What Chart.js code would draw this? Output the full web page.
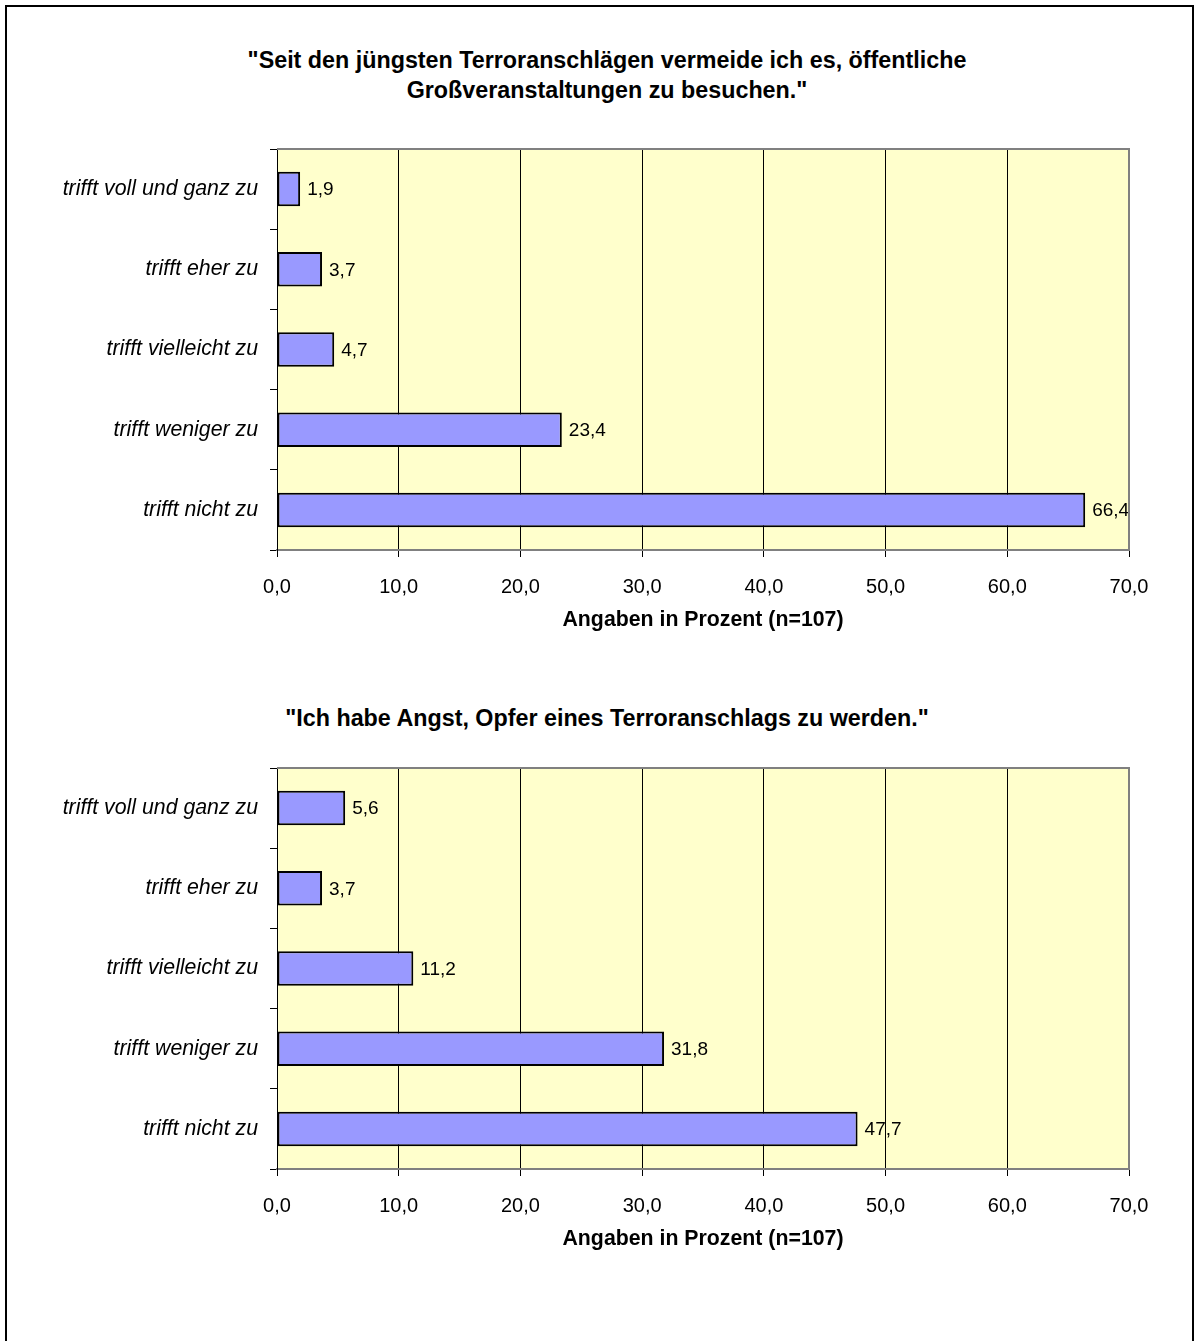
<!DOCTYPE html>
<html>
<head>
<meta charset="utf-8">
<script src="https://cdn.jsdelivr.net/npm/chart.js@4.4.1/dist/chart.umd.min.js"></script>
<style>
  body { margin: 0; background: #fff; width: 1195px; height: 1341px; overflow: hidden; position: relative; font-family: "Liberation Sans", Arial, sans-serif; }
  .frame { position: absolute; left: 5px; top: 5px; width: 1185px; height: 1400px; border: 2px solid #000; }
  .title { position: absolute; left: 0; width: 1214px; text-align: center; font-weight: bold; font-size: 23.3px; line-height: 30px; color: #000; }
  canvas { position: absolute; left: 0; }
</style>
</head>
<body>
<div class="frame"></div>
<div class="title" style="top:45px">"Seit den jüngsten Terroranschlägen vermeide ich es, öffentliche<br>Großveranstaltungen zu besuchen."</div>
<div class="title" style="top:703px">"Ich habe Angst, Opfer eines Terroranschlags zu werden."</div>
<canvas id="chartGross" width="1195" height="660" style="top:0"></canvas>
<canvas id="chartAngst" width="1195" height="660" style="top:619px"></canvas>
<script>
  const categories = [
    "trifft voll und ganz zu",
    "trifft eher zu",
    "trifft vielleicht zu",
    "trifft weniger zu",
    "trifft nicht zu",
  ];
  const grossValues = [1.9, 3.7, 4.7, 23.4, 66.4];
  const angstValues = [5.6, 3.7, 11.2, 31.8, 47.7];
  const axisTitle = "Angaben in Prozent (n=107)";
  const xMin = 0;
  const xMax = 70;
  const xStep = 10;

  const fontFamily = "'Liberation Sans', Arial, sans-serif";

  function fmt(v) {
    return Number(v).toFixed(1).replace(".", ",");
  }

  // yellow plot area + grey frame on top and right
  const plotFrame = {
    id: "plotFrame",
    beforeDraw(chart) {
      const { ctx, chartArea: a } = chart;
      ctx.save();
      ctx.fillStyle = "#FFFFCC";
      ctx.fillRect(a.left, a.top, a.right - a.left, a.bottom - a.top);
      ctx.restore();
    },
    afterDraw(chart) {
      const { ctx, chartArea: a } = chart;
      ctx.save();
      ctx.strokeStyle = "#808080";
      ctx.lineWidth = 2;
      ctx.beginPath();
      ctx.moveTo(a.left, a.top);
      ctx.lineTo(a.right, a.top);
      ctx.lineTo(a.right, a.bottom);
      ctx.stroke();
      ctx.restore();
    },
  };

  const valueLabels = {
    id: "valueLabels",
    afterDatasetsDraw(chart) {
      const { ctx } = chart;
      const meta = chart.getDatasetMeta(0);
      const values = chart.data.datasets[0].data;
      ctx.save();
      ctx.fillStyle = "#000";
      ctx.font = `19px ${fontFamily}`;
      ctx.textAlign = "left";
      ctx.textBaseline = "middle";
      meta.data.forEach((bar, i) => {
        ctx.fillText(fmt(values[i]), bar.x + 7, bar.y + 1);
      });
      ctx.restore();
    },
  };

  function makeChart(canvasId, values) {
    const canvas = document.getElementById(canvasId);
    return new Chart(canvas, {
      type: "bar",
      data: {
        labels: categories,
        datasets: [
          {
            data: values,
            backgroundColor: "#9999FF",
            borderColor: "#000",
            borderWidth: 2,
            borderSkipped: false,
            categoryPercentage: 1,
            barPercentage: 0.43,
          },
        ],
      },
      options: {
        indexAxis: "y",
        responsive: false,
        animation: false,
        devicePixelRatio: 1,
        layout: { padding: { top: 149, right: 66, left: 0, bottom: 0 } },
        plugins: {
          legend: { display: false },
          tooltip: { enabled: false },
          title: { display: false },
        },
        scales: {
          x: {
            min: xMin,
            max: xMax,
            ticks: {
              stepSize: xStep,
              color: "#000",
              padding: 18,
              font: { family: fontFamily, size: 20 },
              callback: (v) => fmt(v),
            },
            grid: {
              color: (c) => (c.tick && (c.tick.value === xMin || c.tick.value === xMax) ? "rgba(0,0,0,0)" : "#000"),
              tickColor: "#000",
              tickLength: 7,
              lineWidth: 1,
            },
            border: { display: true, color: "#808080", width: 2 },
            title: {
              display: true,
              text: axisTitle,
              color: "#000",
              font: { family: fontFamily, size: 21.3, weight: "bold" },
              padding: { top: 0, bottom: 27 },
            },
            afterFit(scale) {
              scale.height = 110;
            },
          },
          y: {
            ticks: {
              color: "#000",
              padding: 12,
              font: { family: fontFamily, size: 21.3, style: "italic" },
            },
            grid: {
              offset: true,
              drawOnChartArea: false,
              tickColor: "#000",
              tickLength: 7,
            },
            border: { display: true, color: "#000", width: 1 },
            afterFit(scale) {
              scale.width = 277;
            },
          },
        },
      },
      plugins: [plotFrame, valueLabels],
    });
  }

  makeChart("chartGross", grossValues);
  makeChart("chartAngst", angstValues);
</script>
</body>
</html>
